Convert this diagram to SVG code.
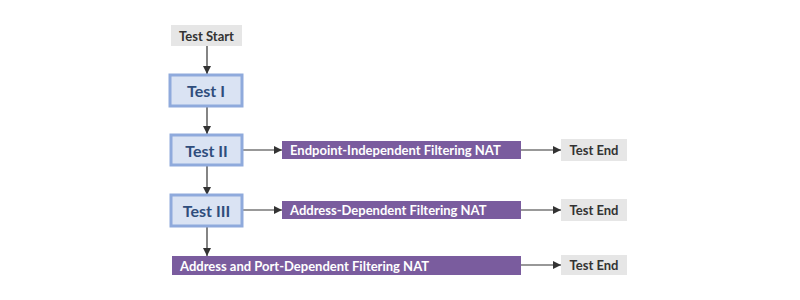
<svg xmlns="http://www.w3.org/2000/svg" width="800" height="300" viewBox="0 0 800 300">
<style>
.term{fill:#e6e6e6}
.termt{font-family:Lato,"Open Sans",sans-serif;font-weight:bold;font-size:13px;fill:#333;text-anchor:middle;dominant-baseline:central}
.test{fill:#dae3f3;stroke:#8faadc;stroke-width:3}
.testt{font-family:Lato,"Open Sans",sans-serif;font-weight:bold;font-size:16px;fill:#2f4d7c;text-anchor:middle;dominant-baseline:central}
.nat{fill:#7a5c9e}
.natt{font-family:Lato,"Open Sans",sans-serif;font-weight:bold;font-size:13px;fill:#fff;dominant-baseline:central}
.conn{stroke:#333;stroke-width:1.2;fill:none;marker-end:url(#ah)}
.conn2{stroke:#777;stroke-width:1.6;fill:none;marker-end:url(#ah)}
</style>
<defs>
<marker id="ah" viewBox="0 0 10 10" refX="10" refY="5" markerWidth="8" markerHeight="8" markerUnits="userSpaceOnUse" orient="auto">
<path d="M0,0 L10,5 L0,10 z" fill="#333"/>
</marker>
</defs>
<rect width="800" height="300" fill="#fff"/>
<g id="connectors">
<line class="conn" x1="207" y1="46" x2="207" y2="74"/>
<line class="conn" x1="207" y1="107" x2="207" y2="134"/>
<line class="conn" x1="207" y1="166" x2="207" y2="195"/>
<line class="conn" x1="207" y1="227" x2="207" y2="256"/>
<line class="conn" x1="243" y1="150" x2="282" y2="150"/>
<line class="conn2" x1="243" y1="210" x2="282" y2="210"/>
<line class="conn" x1="521" y1="150" x2="561" y2="150"/>
<line class="conn2" x1="521" y1="210" x2="561" y2="210"/>
<line class="conn" x1="521" y1="265" x2="561" y2="265"/>
</g>
<g id="test-start">
<rect class="term" x="171" y="25" width="71" height="21"/>
<text class="termt" x="206.5" y="35.5">Test Start</text>
</g>
<g id="test-1">
<rect class="test" x="170" y="75" width="72" height="31"/>
<text class="testt" x="206" y="90.5">Test I</text>
</g>
<g id="test-2">
<rect class="test" x="171" y="135" width="71" height="30"/>
<text class="testt" x="206.5" y="150">Test II</text>
</g>
<g id="test-3">
<rect class="test" x="171" y="195" width="71" height="31"/>
<text class="testt" x="206.5" y="210.5">Test III</text>
</g>
<g id="nat-eif">
<rect class="nat" x="282" y="141" width="239" height="18"/>
<text class="natt" x="290" y="150">Endpoint-Independent Filtering NAT</text>
</g>
<g id="nat-adf">
<rect class="nat" x="282" y="201" width="239" height="18"/>
<text class="natt" x="290" y="210">Address-Dependent Filtering NAT</text>
</g>
<g id="nat-apdf">
<rect class="nat" x="172" y="256" width="349" height="19"/>
<text class="natt" x="180" y="265.5">Address and Port-Dependent Filtering NAT</text>
</g>
<g id="end-1">
<rect class="term" x="561" y="139" width="66" height="22"/>
<text class="termt" x="594" y="150">Test End</text>
</g>
<g id="end-2">
<rect class="term" x="561" y="199" width="66" height="22"/>
<text class="termt" x="594" y="210">Test End</text>
</g>
<g id="end-3">
<rect class="term" x="561" y="255" width="66" height="20"/>
<text class="termt" x="594" y="265">Test End</text>
</g>
</svg>
